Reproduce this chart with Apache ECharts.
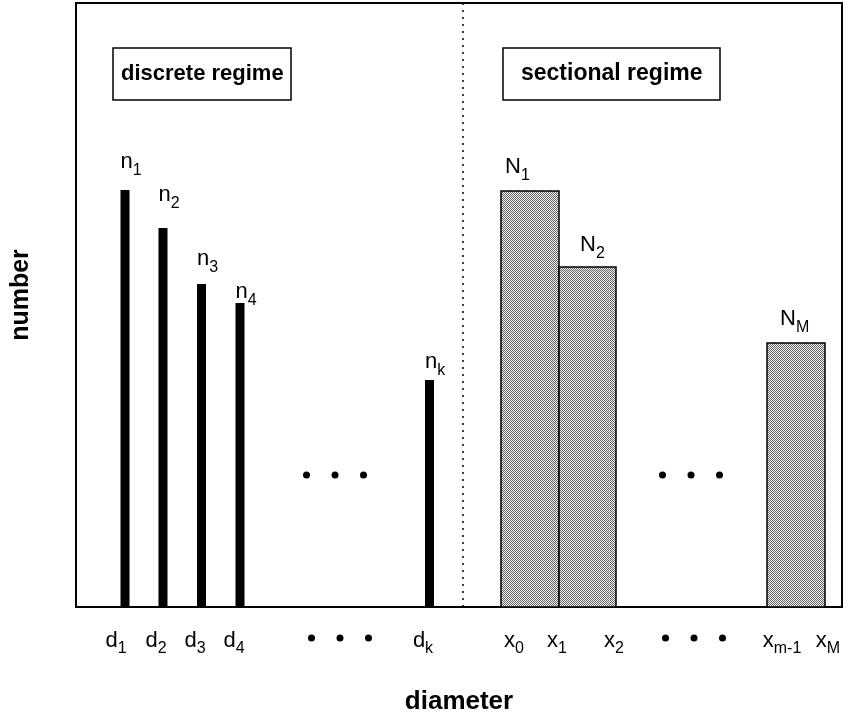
<!DOCTYPE html>
<html><head><meta charset="utf-8">
<script src="https://cdn.jsdelivr.net/npm/echarts@6/dist/echarts.min.js"></script>
<style>html,body{margin:0;padding:0;background:#fff}#c{width:850px;height:722px}</style>
</head><body><div id="c"></div>
<script>
// ---- data (arbitrary units) ----
const discreteSub = ['1', '2', '3', '4', 'k'];
const discreteDiam = [49, 87, 125.5, 164, 353.5];
const discreteNum = [417, 379, 323, 304, 227];

const sectionSub = ['1', '2', 'M'];
const sectionLow = [425, 483, 691];
const sectionHigh = [483, 540, 749];
const sectionNum = [416, 340, 264];

const regimeBoundary = 387;

const tickPos = [40, 80, 119, 158, 347, 438, 481, 538, 706, 752];
const tickMain = ['d', 'd', 'd', 'd', 'd', 'x', 'x', 'x', 'x', 'x'];
const tickSub = ['1', '2', '3', '4', 'k', '0', '1', '2', 'm-1', 'M'];

const ellipsisX = [259, 615, 264, 618];
const ellipsisY = [132, 132, -31, -31];

// ---- label placement (style) ----
const discreteLabelDx = [0, 0, 0, 0, 0];
const discreteLabelGap = [25, 30, 22, 8, 15];
const sectionLabelDx = [4, 21, 13];
const sectionLabelGap = [21, 19, 21];

const FONT = '"Liberation Sans", Arial, Helvetica, sans-serif';
const rich = {
  m: { fontSize: 22, lineHeight: 22, fontFamily: FONT, color: '#000', verticalAlign: 'top' },
  s: { fontSize: 16, lineHeight: 16, fontFamily: FONT, color: '#000', padding: [11, 0, 0, 0], verticalAlign: 'top' }
};
// rich box: height 27, main baseline ~18.7 from top
const BASE_TO_BOTTOM = 8.3;

// stipple pattern
const pc = document.createElement('canvas');
pc.width = 2; pc.height = 2;
const pctx = pc.getContext('2d');
pctx.fillStyle = '#efefef'; pctx.fillRect(0, 0, 2, 2);
pctx.fillStyle = '#666666'; pctx.fillRect(0, 0, 1, 1); pctx.fillRect(1, 1, 1, 1);
const stipple = { image: pc, repeat: 'repeat' };

const chart = echarts.init(document.getElementById('c'), null, { renderer: 'canvas' });

const discreteData = discreteDiam.map((d, i) => [d, discreteNum[i], i]);
const sectionData = sectionLow.map((l, i) => [l, sectionHigh[i], sectionNum[i], i]);
const ellipsisData = ellipsisX.map((x, i) => [x, ellipsisY[i]]);

chart.setOption({
  animation: false,
  backgroundColor: '#fff',
  title: [
    { text: 'discrete regime', left: 113, top: 48, borderColor: '#000', borderWidth: 1.5,
      padding: [13, 8], textStyle: { fontSize: 22, fontWeight: 'bold', fontFamily: FONT, color: '#000', lineHeight: 26 } },
    { text: 'sectional regime', left: 503, top: 48, borderColor: '#000', borderWidth: 1.5,
      padding: [13, 18], textStyle: { fontSize: 23, fontWeight: 'bold', fontFamily: FONT, color: '#000', lineHeight: 26 } }
  ],
  grid: { left: 76, right: 8, top: 3, bottom: 115, show: true, borderColor: '#000', borderWidth: 2,
          backgroundColor: 'transparent', containLabel: false, outerBoundsMode: 'none' },
  xAxis: {
    type: 'value', min: 0, max: 766,
    name: 'diameter', nameLocation: 'middle', nameGap: 82,
    nameTextStyle: { fontSize: 26, fontWeight: 'bold', fontFamily: FONT, color: '#000' },
    axisLine: { show: false }, axisTick: { show: false }, splitLine: { show: false },
    axisLabel: {
      show: true, margin: 23, customValues: tickPos, hideOverlap: false,
      formatter: function (v) {
        let idx = -1;
        for (let i = 0; i < tickPos.length; i++) if (Math.abs(tickPos[i] - v) < 0.01) idx = i;
        if (idx < 0) return '';
        return '{m|' + tickMain[idx] + '}{s|' + tickSub[idx] + '}';
      },
      rich: rich
    }
  },
  yAxis: {
    type: 'value', min: 0, max: 604,
    name: 'number', nameLocation: 'middle', nameGap: 42, nameRotate: 90,
    nameTextStyle: { fontSize: 25, fontWeight: 'bold', fontFamily: FONT, color: '#000', padding: [0, 0, 0, 20] },
    axisLine: { show: false }, axisTick: { show: false }, splitLine: { show: false }, axisLabel: { show: false }
  },
  series: [
    {
      name: 'discrete', type: 'custom', data: discreteData, clip: false,
      encode: { x: 0, y: 1 },
      renderItem: function (params, api) {
        const i = api.value(2);
        const top = api.coord([api.value(0), api.value(1)]);
        const base = api.coord([api.value(0), 0]);
        const w = 9;
        const left = top[0] - w / 2;
        return { type: 'group', children: [
          { type: 'rect', shape: { x: left, y: top[1], width: w, height: base[1] - top[1] }, style: { fill: '#000' } },
          { type: 'text', x: left + discreteLabelDx[i], y: top[1] - discreteLabelGap[i] + BASE_TO_BOTTOM,
            style: { text: '{m|n}{s|' + discreteSub[i] + '}', rich: rich, align: 'left', verticalAlign: 'bottom' } }
        ] };
      },
      markLine: {
        silent: true, symbol: 'none', label: { show: false },
        lineStyle: { color: '#000', type: [2, 5], width: 1.5 },
        data: [{ xAxis: regimeBoundary }]
      }
    },
    {
      name: 'sectional', type: 'custom', data: sectionData, clip: false,
      encode: { x: [0, 1], y: 2 },
      renderItem: function (params, api) {
        const i = api.value(3);
        const tl = api.coord([api.value(0), api.value(2)]);
        const br = api.coord([api.value(1), 0]);
        return { type: 'group', children: [
          { type: 'rect', shape: { x: tl[0], y: tl[1], width: br[0] - tl[0], height: br[1] - tl[1] },
            style: { fill: stipple, stroke: '#000', lineWidth: 1.5 } },
          { type: 'text', x: tl[0] + sectionLabelDx[i], y: tl[1] - sectionLabelGap[i] + BASE_TO_BOTTOM,
            style: { text: '{m|N}{s|' + sectionSub[i] + '}', rich: rich, align: 'left', verticalAlign: 'bottom' } }
        ] };
      }
    },
    {
      name: 'ellipsis', type: 'custom', data: ellipsisData, clip: false,
      renderItem: function (params, api) {
        const c = api.coord([api.value(0), api.value(1)]);
        const kids = [-1, 0, 1].map(k => ({ type: 'circle', shape: { cx: c[0] + k * 28.5, cy: c[1], r: 3.5 }, style: { fill: '#000' } }));
        return { type: 'group', children: kids };
      }
    }
  ]
});
</script></body></html>
